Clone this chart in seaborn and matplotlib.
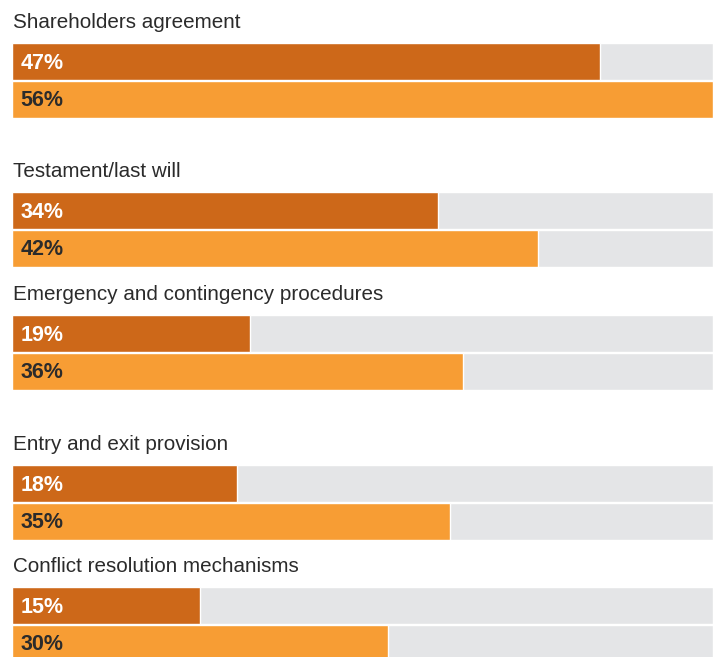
import numpy as np
import pandas as pd
import matplotlib
matplotlib.use('Agg')
import matplotlib.pyplot as plt
import seaborn as sns

categories = ['Shareholders agreement', 'Testament/last will',
              'Emergency and contingency procedures', 'Entry and exit provision',
              'Conflict resolution mechanisms']
dark_vals = [47, 34, 19, 18, 15]
light_vals = [56, 42, 36, 35, 30]
series = ['dark', 'light']

dark_col = '#CD6819'
light_col = '#F79D34'
track_col = '#E4E5E7'
text_col = '#2B2B2B'

sns.set_theme(style='white')
plt.rcParams['font.family'] = ['Liberation Sans', 'DejaVu Sans']

W, H = 720, 657
fig = plt.figure(figsize=(W / 100, H / 100), dpi=100)

# pixel rows (top of each bar pair) - groups are unevenly spaced in the original
group_tops = [43, 192, 315, 465, 587]
group_h = 75
left_px, right_px = 12, 713

scale_max = max(max(dark_vals), max(light_vals))

for i, cat in enumerate(categories):
    top = group_tops[i]
    ax = fig.add_axes([left_px / W, (H - top - group_h) / H,
                       (right_px - left_px) / W, group_h / H])
    df = pd.DataFrame({'series': series, 'value': [dark_vals[i], light_vals[i]]})
    # grey track behind each bar
    sns.barplot(x=[scale_max] * 2, y=series, color=track_col, width=0.975,
                saturation=1, ax=ax)
    sns.barplot(data=df, x='value', y='series', hue='series',
                palette={'dark': dark_col, 'light': light_col},
                width=0.975, saturation=1, legend=False, ax=ax)
    ax.set_xlim(0, scale_max)
    ax.set_ylim(1.5, -0.5)
    ax.axis('off')

    for j, v in enumerate(df['value']):
        ax.annotate(f'{v}%', xy=(0, j), xytext=(6, -1), textcoords='offset points',
                    va='center', ha='left', fontsize=15.5, fontweight='bold',
                    color='white' if j == 0 else text_col)

    ax.annotate(cat, xy=(0, 1), xycoords='axes fraction', xytext=(0.5, 10.5),
                textcoords='offset points', va='baseline', ha='left',
                fontsize=14.9, color=text_col)

fig.savefig('out.png', dpi=100)
